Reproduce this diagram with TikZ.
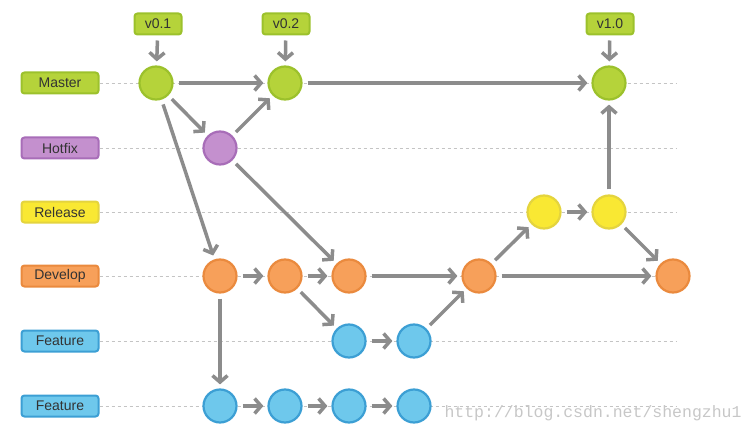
\documentclass[tikz,border=0pt]{standalone}
\usepackage{fontspec}
\setmainfont{Liberation Sans}
\newfontfamily\wmfont{Liberation Mono}
\usetikzlibrary{arrows.meta}

\definecolor{grn}{HTML}{B5D33A}
\definecolor{grnd}{HTML}{9CC12C}
\definecolor{prp}{HTML}{C490CE}
\definecolor{prpd}{HTML}{A86DB8}
\definecolor{ylw}{HTML}{F9E833}
\definecolor{ylwd}{HTML}{E4D43E}
\definecolor{org}{HTML}{F7A05A}
\definecolor{orgd}{HTML}{EA8A3E}
\definecolor{blu}{HTML}{6EC8EC}
\definecolor{blud}{HTML}{3C9FD4}
\definecolor{arr}{HTML}{8C8C8C}
\definecolor{lanec}{HTML}{C4C4C4}
\definecolor{txt}{HTML}{333333}

\begin{document}
\begin{tikzpicture}[x=1pt,y=-1pt,
    commit/.style={circle, minimum size=33pt, inner sep=0pt, line width=2.2pt},
    lbl/.style={rounded corners=3pt, line width=2pt, minimum width=77pt, minimum height=21pt,
      inner sep=0pt, text=txt, font=\fontsize{14}{16}\selectfont},
    tag/.style={lbl, minimum width=47pt},
    flow/.style={draw=arr, line width=3.5pt, -{Straight Barb[length=6.5pt,width=15pt]},
      shorten <=5pt, shorten >=4pt},
    lane/.style={draw=lanec, line width=0.8pt, dash pattern=on 3pt off 3pt}]

        \useasboundingbox (0,0) rectangle (755,433);

        % branch labels
        \node[lbl, fill=grn, draw=grnd] (master) at (60,83) {Master};
        \node[lbl, fill=prp, draw=prpd] (hotfix) at (60,148) {Hotfix};
        \node[lbl, fill=ylw, draw=ylwd] (release) at (60,212) {Release};
        \node[lbl, fill=org, draw=orgd] (develop) at (60,276) {Develop};
        \node[lbl, fill=blu, draw=blud] (featA) at (60,341) {Feature};
        \node[lbl, fill=blu, draw=blud] (featB) at (60,406) {Feature};

        \foreach \l in {master,hotfix,release,develop,featA,featB}
            \draw[lane] (\l.east) -- ++(577,0);

        % version tags
        \node[tag, fill=grn, draw=grnd] (v01) at (158,24) {v0.1};
        \node[tag, fill=grn, draw=grnd] (v02) at (286,24) {v0.2};
        \node[tag, fill=grn, draw=grnd] (v10) at (610,24) {v1.0};

        % commits
        \node[commit, fill=grn, draw=grnd] (m1) at (156,83) {};
        \node[commit, fill=grn, draw=grnd] (m2) at (285,83) {};
        \node[commit, fill=grn, draw=grnd] (m3) at (609,83) {};
        \node[commit, fill=prp, draw=prpd] (h1) at (220,148) {};
        \node[commit, fill=ylw, draw=ylwd] (r1) at (544,212) {};
        \node[commit, fill=ylw, draw=ylwd] (r2) at (609,212) {};
        \node[commit, fill=org, draw=orgd] (d1) at (220,276) {};
        \node[commit, fill=org, draw=orgd] (d2) at (285,276) {};
        \node[commit, fill=org, draw=orgd] (d3) at (349,276) {};
        \node[commit, fill=org, draw=orgd] (d4) at (479,276) {};
        \node[commit, fill=org, draw=orgd] (d5) at (673,276) {};
        \node[commit, fill=blu, draw=blud] (f1) at (349,341) {};
        \node[commit, fill=blu, draw=blud] (f2) at (414,341) {};
        \node[commit, fill=blu, draw=blud] (g1) at (220,406) {};
        \node[commit, fill=blu, draw=blud] (g2) at (285,406) {};
        \node[commit, fill=blu, draw=blud] (g3) at (349,406) {};
        \node[commit, fill=blu, draw=blud] (g4) at (414,406) {};

        % history
        \draw[flow] (v01) -- (m1);
        \draw[flow] (v02) -- (m2);
        \draw[flow] (v10) -- (m3);
        \draw[flow] (m1) -- (m2);
        \draw[flow] (m2) -- (m3);
        \draw[flow] (m1) -- (h1);
        \draw[flow] (h1) -- (m2);
        \draw[flow] (m1) -- (d1);
        \draw[flow] (h1) -- (d3);
        \draw[flow] (d1) -- (d2);
        \draw[flow] (d2) -- (d3);
        \draw[flow] (d3) -- (d4);
        \draw[flow] (d4) -- (d5);
        \draw[flow] (d1) -- (g1);
        \draw[flow] (d2) -- (f1);
        \draw[flow] (f1) -- (f2);
        \draw[flow] (f2) -- (d4);
        \draw[flow] (d4) -- (r1);
        \draw[flow] (r1) -- (r2);
        \draw[flow] (r2) -- (m3);
        \draw[flow] (r2) -- (d5);
        \draw[flow] (g1) -- (g2);
        \draw[flow] (g2) -- (g3);
        \draw[flow] (g3) -- (g4);

        \node[anchor=west, text=black!22, font=\wmfont\fontsize{16.5}{18}\selectfont] (wm) at (441,413) {http://blog.csdn.net/shengzhu1};

\end{tikzpicture}
\end{document}
